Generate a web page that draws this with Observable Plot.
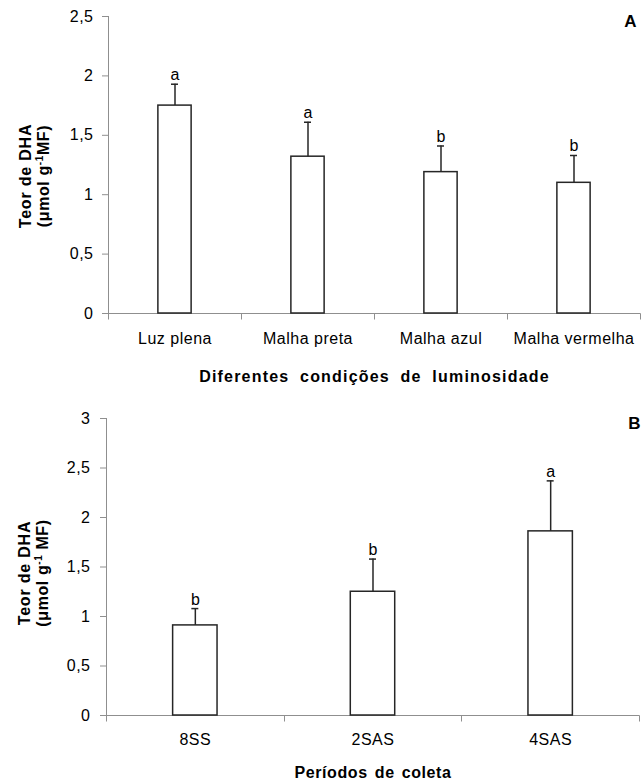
<!DOCTYPE html>
<html>
<head>
<meta charset="utf-8">
<script src="https://cdn.jsdelivr.net/npm/d3@7"></script>
<script src="https://cdn.jsdelivr.net/npm/@observablehq/plot@0.6"></script>
<style>
  html, body { margin: 0; padding: 0; background: #fff; }
  #wrap { width: 641px; height: 784px; position: relative; overflow: hidden; }
  #wrap svg { display: block; }
</style>
</head>
<body>
<div id="wrap"></div>
<script>
// ---- Panel A data ----
const catsA = ["Luz plena", "Malha preta", "Malha azul", "Malha vermelha"];
const meansA = [1.75, 1.32, 1.19, 1.10];
const errsA = [0.18, 0.29, 0.22, 0.23];
const lettersA = ["a", "a", "b", "b"];
const yTicksA = [0, 0.5, 1, 1.5, 2, 2.5];
const titleA = "Diferentes condições de luminosidade";

// ---- Panel B data ----
const catsB = ["8SS", "2SAS", "4SAS"];
const meansB = [0.91, 1.25, 1.86];
const errsB = [0.17, 0.33, 0.51];
const lettersB = ["b", "b", "a"];
const yTicksB = [0, 0.5, 1, 1.5, 2, 2.5, 3];
const titleB = "Períodos de coleta";

const AXIS = "#8f8f8f";
const BAR = "#262626";
const FONT = "'Liberation Sans', Arial, Helvetica, sans-serif";

function axesMark(index, scales, values, dimensions) {
  const x = scales.x, y = scales.y;
  const {width, marginLeft, marginRight, marginTop} = dimensions;
  const y0 = Math.round(y(0)) + 0.5;
  const dom = x.domain();
  const step = x.step ? x.step() : (width - marginLeft - marginRight) / dom.length;
  const bw = x.bandwidth ? x.bandwidth() : 0;
  const g = d3.create("svg:g").attr("stroke", AXIS).attr("stroke-width", 1).attr("fill", "none");
  g.append("line").attr("x1", marginLeft + 0.5).attr("x2", marginLeft + 0.5)
    .attr("y1", marginTop).attr("y2", y0);
  g.append("line").attr("x1", marginLeft).attr("x2", width - marginRight + 0.5)
    .attr("y1", y0).attr("y2", y0);
  const bounds = dom.map(d => x(d) + bw / 2 - step / 2);
  bounds.push(bounds[bounds.length - 1] + step);
  for (const b of bounds) {
    const xb = Math.round(b) + 0.5;
    g.append("line").attr("x1", xb).attr("x2", xb).attr("y1", y0).attr("y2", y0 + 6);
  }
  return g.node();
}

function panel(o) {
  const data = o.cats.map((c, i) => ({cat: c, mean: o.means[i], upper: o.means[i] + o.errs[i], letter: o.letters[i]}));
  const step = (o.width - o.ml - o.mr) / o.cats.length;
  const bw = step * 0.25;
  const capInset = (bw - 7) / 2;
  const svg = Plot.plot({
    width: o.width,
    height: o.height,
    marginTop: o.mt,
    marginBottom: o.mb,
    marginLeft: o.ml,
    marginRight: o.mr,
    style: {fontFamily: FONT, fontSize: "16px", color: "#000", background: "#fff", overflow: "visible"},
    x: {domain: o.cats, paddingInner: 0.75, paddingOuter: 0.375, round: false, axis: null},
    y: {domain: [0, o.yMax], axis: null},
    marks: [
      Plot.axisY({ticks: o.yTicks, tickSize: 6, tickPadding: o.tp, stroke: AXIS, label: null,
        tickFormat: d => String(d).replace(".", ",")}),
      Plot.axisX({tickSize: 0, tickPadding: o.xp, label: null}),
      axesMark,
      Plot.barY(data, {x: "cat", y: "mean", fill: "#fff", stroke: BAR, strokeWidth: 1.5}),
      Plot.ruleX(data, {x: "cat", y1: "mean", y2: "upper", stroke: BAR, strokeWidth: 1.5}),
      Plot.tickY(data, {x: "cat", y: "upper", stroke: BAR, strokeWidth: 1.5, inset: capInset}),
      Plot.text(data, {x: "cat", y: "upper", text: "letter", lineAnchor: "bottom", dy: -4, fontSize: 16}),
      Plot.text([o.panel], {frameAnchor: "top-right", dx: o.pdx, dy: o.pdy, fontWeight: "bold", fontSize: 17}),
      Plot.text([o.title], {frameAnchor: "bottom", dy: o.tdy, lineAnchor: "middle", fontWeight: "bold",
        fontSize: 16})
    ]
  });
  const s = d3.select(svg);
  // spacing for tick labels and title
  s.selectAll("text").each(function () {
    const t = this.textContent;
    if (t === o.title) {
      this.style.letterSpacing = o.titleLS;
      this.style.wordSpacing = o.titleWS;
    } else if (o.cats.includes(t) || /^[0-9],?[0-9]?$/.test(t)) {
      this.style.letterSpacing = "0.5px";
    }
  });
  // y-axis label (two lines, with superscript)
  const lab = s.append("g").attr("font-weight", "bold").attr("font-size", 16).attr("fill", "#000")
    .attr("text-anchor", "middle").attr("font-family", FONT);
  lab.append("text").style("letter-spacing", "0.8px")
    .attr("transform", `translate(${o.l1x},${o.ly}) rotate(-90)`).text("Teor de DHA");
  const t2 = lab.append("text").style("letter-spacing", "0.6px")
    .attr("transform", `translate(${o.l2x},${o.ly}) rotate(-90)`);
  t2.append("tspan").text("(μmol g");
  t2.append("tspan").attr("font-size", 10).attr("dy", -6).text("-1");
  t2.append("tspan").attr("dy", 6).text(o.unitTail);
  return svg;
}

const wrap = document.getElementById("wrap");
wrap.appendChild(panel({
  cats: catsA, means: meansA, errs: errsA, letters: lettersA, yTicks: yTicksA, yMax: 2.5,
  width: 641, height: 390, mt: 16, mb: 77, ml: 108, mr: 1, tp: 9, xp: 19,
  panel: "A", pdx: -4, pdy: -2, title: titleA, tdy: 63, titleLS: "1.2px", titleWS: "5px",
  l1x: 31, l2x: 49, ly: 176, unitTail: "MF)"
}));
wrap.appendChild(panel({
  cats: catsB, means: meansB, errs: errsB, letters: lettersB, yTicks: yTicksB, yMax: 3,
  width: 641, height: 394, mt: 28, mb: 69, ml: 106, mr: 2, tp: 10, xp: 18,
  panel: "B", pdx: 1, pdy: -2, title: titleB, tdy: 57, titleLS: "0.6px", titleWS: "2px",
  l1x: 30, l2x: 48, ly: 183, unitTail: " MF)"
}));
</script>
</body>
</html>
